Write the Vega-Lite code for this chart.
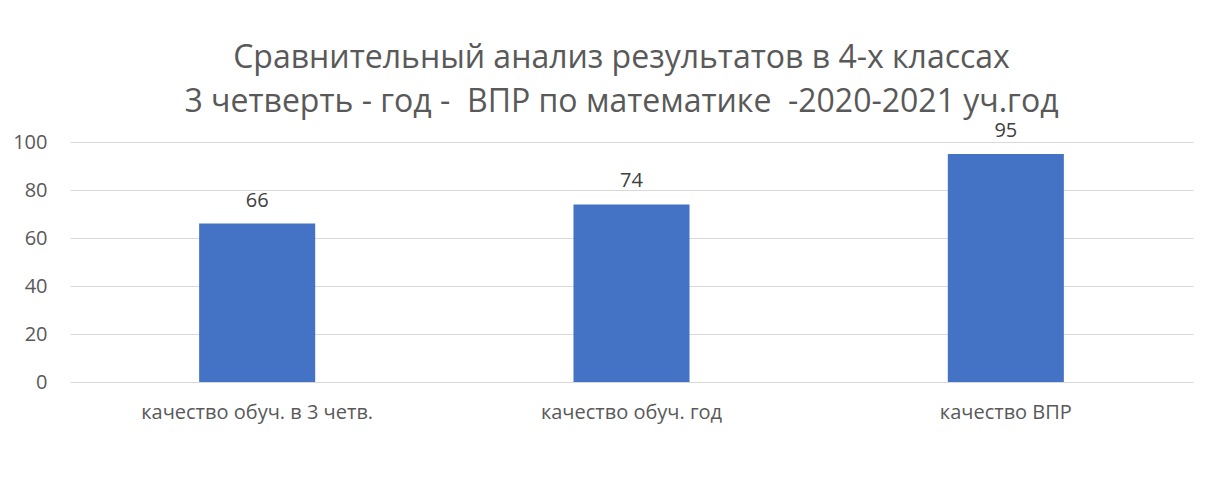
{
  "$schema": "https://vega.github.io/schema/vega-lite/v6.json",
  "autosize": {"type": "none"},
  "width": 1123,
  "height": 240,
  "padding": {"left": 70, "top": 142, "right": 25, "bottom": 111},
  "background": "white",
  "title": {
    "text": ["Сравнительный анализ результатов в 4-х классах", "3 четверть - год - \u00a0ВПР по математике \u00a0-2020-2021 уч.год"],
    "font": "Open Sans",
    "fontSize": 32,
    "fontWeight": "normal",
    "color": "#595959",
    "lineHeight": 44,
    "anchor": "middle",
    "dx": -10,
    "offset": 2
  },
  "data": {
    "values": [
      {"category": "качество обуч. в 3 четв.", "value": 66},
      {"category": "качество обуч. год", "value": 74},
      {"category": "качество ВПР", "value": 95}
    ]
  },
  "encoding": {
    "x": {
      "field": "category",
      "type": "nominal",
      "sort": null,
      "scale": {"paddingInner": 0.69, "paddingOuter": 0.345},
      "axis": {
        "title": null,
        "labelAngle": 0,
        "labelFont": "Open Sans",
        "labelFontSize": 20,
        "labelColor": "#595959",
        "labelPadding": 20,
        "labelLimit": 400,
        "ticks": false,
        "domain": false,
        "grid": false
      }
    },
    "y": {
      "field": "value",
      "type": "quantitative",
      "scale": {"domain": [0, 100]},
      "axis": {
        "title": null,
        "values": [0, 20, 40, 60, 80, 100],
        "labelFont": "Open Sans",
        "labelFontSize": 20,
        "labelColor": "#595959",
        "labelPadding": 23,
        "ticks": false,
        "domain": false,
        "grid": true,
        "gridColor": "#d9d9d9",
        "gridWidth": 1.2
      }
    }
  },
  "layer": [
    {"mark": {"type": "bar", "color": "#4472C4"}},
    {
      "mark": {"type": "text", "baseline": "alphabetic", "dy": -17, "font": "Open Sans", "fontSize": 20, "color": "#404040"},
      "encoding": {"text": {"field": "value", "type": "quantitative"}}
    }
  ],
  "config": {"view": {"stroke": null}}
}
